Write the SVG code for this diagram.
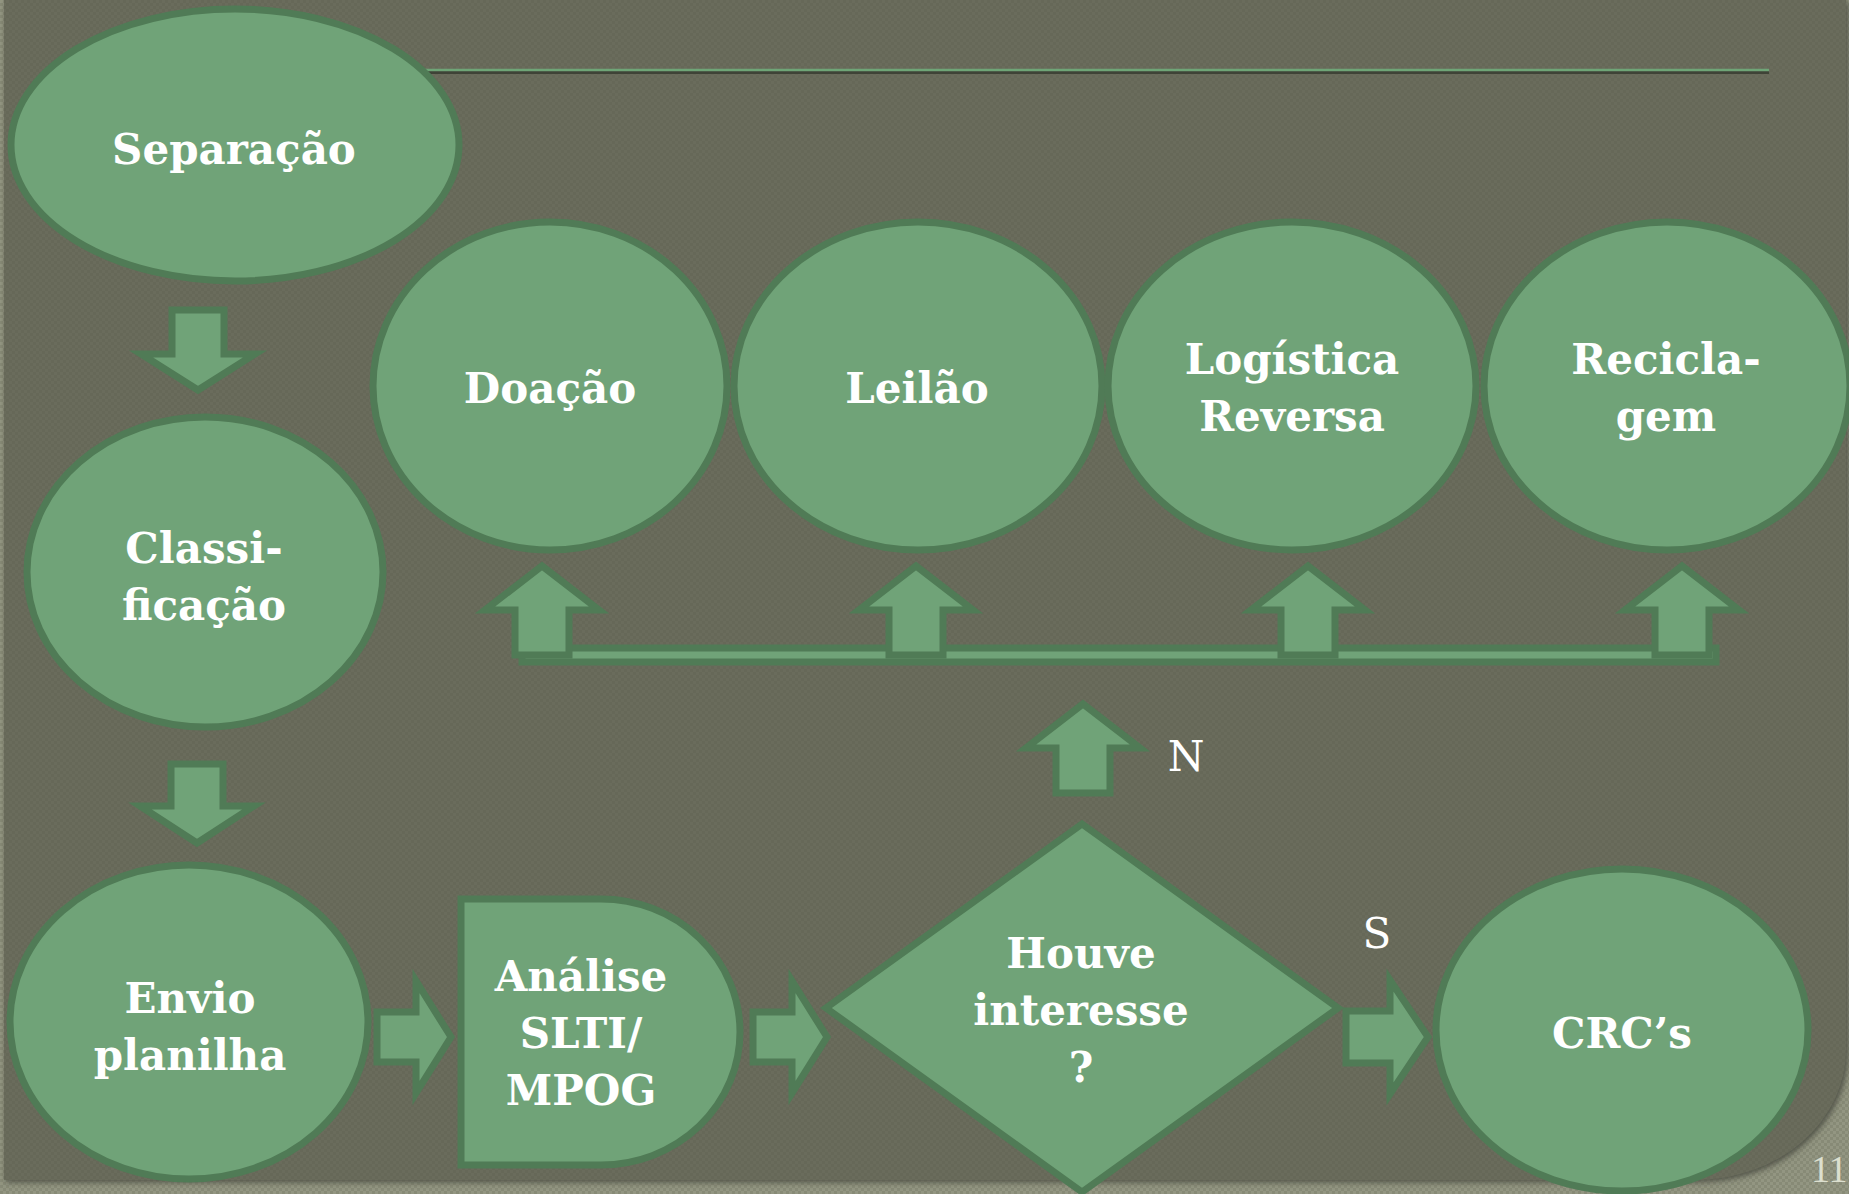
<svg xmlns="http://www.w3.org/2000/svg" width="1849" height="1194" viewBox="0 0 1849 1194">
<defs>
<style>
.node{fill:#70A378;stroke:#507B56;stroke-width:7;stroke-linejoin:miter}
.t{font-family:"DejaVu Serif",serif;font-weight:bold;font-size:42px;fill:#FFFFFF;text-anchor:middle}
.lbl{font-family:"DejaVu Serif",serif;font-size:42px;fill:#FFFFFF;text-anchor:middle}
</style>
<pattern id="darkTex" width="6" height="6" patternUnits="userSpaceOnUse">
<rect width="6" height="6" fill="#666858"/>
<rect width="3" height="3" fill="#6A6C5C"/>
<rect x="3" y="3" width="3" height="3" fill="#6A6C5C"/>
</pattern>
<pattern id="lightTex" width="6" height="6" patternUnits="userSpaceOnUse">
<rect width="6" height="6" fill="#878A76"/>
<rect width="3" height="3" fill="#939682"/>
<rect x="3" y="3" width="3" height="3" fill="#939682"/>
</pattern>
<filter id="soft" x="-5%" y="-5%" width="110%" height="110%"><feGaussianBlur stdDeviation="3"/></filter>
</defs>

<g id="background">
<rect width="1849" height="1194" fill="url(#lightTex)"/>
<path d="M4,0 H1846 V1050 A150,130 0 0 1 1696,1180 H4 Z" fill="#4E5044" filter="url(#soft)" transform="translate(2,2)"/>
<path d="M4,0 H1846 V1050 A150,130 0 0 1 1696,1180 H4 Z" fill="url(#darkTex)"/>
<line x1="400" y1="72.5" x2="1769" y2="72.5" stroke="#3F4337" stroke-width="3"/>
<line x1="400" y1="70" x2="1769" y2="70" stroke="#6FA577" stroke-width="2.5"/>
<text x="1811" y="1182" font-family="Liberation Serif, serif" font-size="38" fill="#DCDFCF">11</text>
</g>

<g id="connectors">
<rect x="522" y="648" width="1194" height="14" class="node"/>
<path class="node" d="M172,310 H224 V354 H255 L198,390 L141,354 H172 Z"/>
<path class="node" d="M171,764 H223 V806 H254 L197,843 L140,806 H171 Z"/>
<path class="node" d="M377,1012 H416 V981 L451,1037 L416,1093 V1062 H377 Z"/>
<path class="node" d="M753,1012 H792 V981 L827,1037 L792,1093 V1062 H753 Z"/>
<path class="node" d="M1346,1011 H1390 V980 L1428,1037 L1390,1094 V1063 H1346 Z"/>
<path class="node" d="M1056,793 V748 H1026 L1083,704 L1140,748 H1110 V793 Z"/>
<path class="node" d="M515,655 V610 H485 L542,566 L599,610 H569 V655 Z"/>
<path class="node" d="M889,655 V610 H859 L916,566 L973,610 H943 V655 Z"/>
<path class="node" d="M1281,655 V610 H1251 L1308,566 L1365,610 H1335 V655 Z"/>
<path class="node" d="M1655,655 V610 H1625 L1682,566 L1739,610 H1709 V655 Z"/>
<text class="lbl" x="1186" y="771">N</text>
<text class="lbl" x="1377" y="948">S</text>
</g>

<g id="separacao">
<ellipse class="node" cx="235" cy="145" rx="224" ry="136"/>
<text class="t" x="234" y="164">Separação</text>
</g>

<g id="classificacao">
<ellipse class="node" cx="205" cy="572" rx="178" ry="155"/>
<text class="t" x="204" y="563">Classi-</text>
<text class="t" x="204" y="620">ficação</text>
</g>

<g id="envio">
<ellipse class="node" cx="189" cy="1022" rx="179" ry="157"/>
<text class="t" x="190" y="1013">Envio</text>
<text class="t" x="190" y="1070">planilha</text>
</g>

<g id="analise">
<path class="node" d="M461,899 H601 A139,133 0 0 1 601,1165 H461 Z"/>
<text class="t" x="581" y="991">Análise</text>
<text class="t" x="581" y="1048">SLTI/</text>
<text class="t" x="581" y="1105">MPOG</text>
</g>

<g id="decisao">
<path class="node" d="M1082,824 L1338,1008 L1082,1192 L826,1008 Z"/>
<text class="t" x="1081" y="968">Houve</text>
<text class="t" x="1081" y="1025">interesse</text>
<text class="t" x="1081" y="1082">?</text>
</g>

<g id="crcs">
<ellipse class="node" cx="1622" cy="1030" rx="186" ry="161"/>
<text class="t" x="1622" y="1048">CRC’s</text>
</g>

<g id="doacao">
<ellipse class="node" cx="550" cy="386" rx="177" ry="164"/>
<text class="t" x="550" y="403">Doação</text>
</g>

<g id="leilao">
<ellipse class="node" cx="918" cy="386" rx="184" ry="164"/>
<text class="t" x="917" y="403">Leilão</text>
</g>

<g id="logistica">
<ellipse class="node" cx="1292" cy="386" rx="184" ry="164"/>
<text class="t" x="1292" y="374">Logística</text>
<text class="t" x="1292" y="431">Reversa</text>
</g>

<g id="reciclagem">
<ellipse class="node" cx="1667" cy="386" rx="183" ry="164"/>
<text class="t" x="1666" y="374">Recicla-</text>
<text class="t" x="1666" y="431">gem</text>
</g>
</svg>
